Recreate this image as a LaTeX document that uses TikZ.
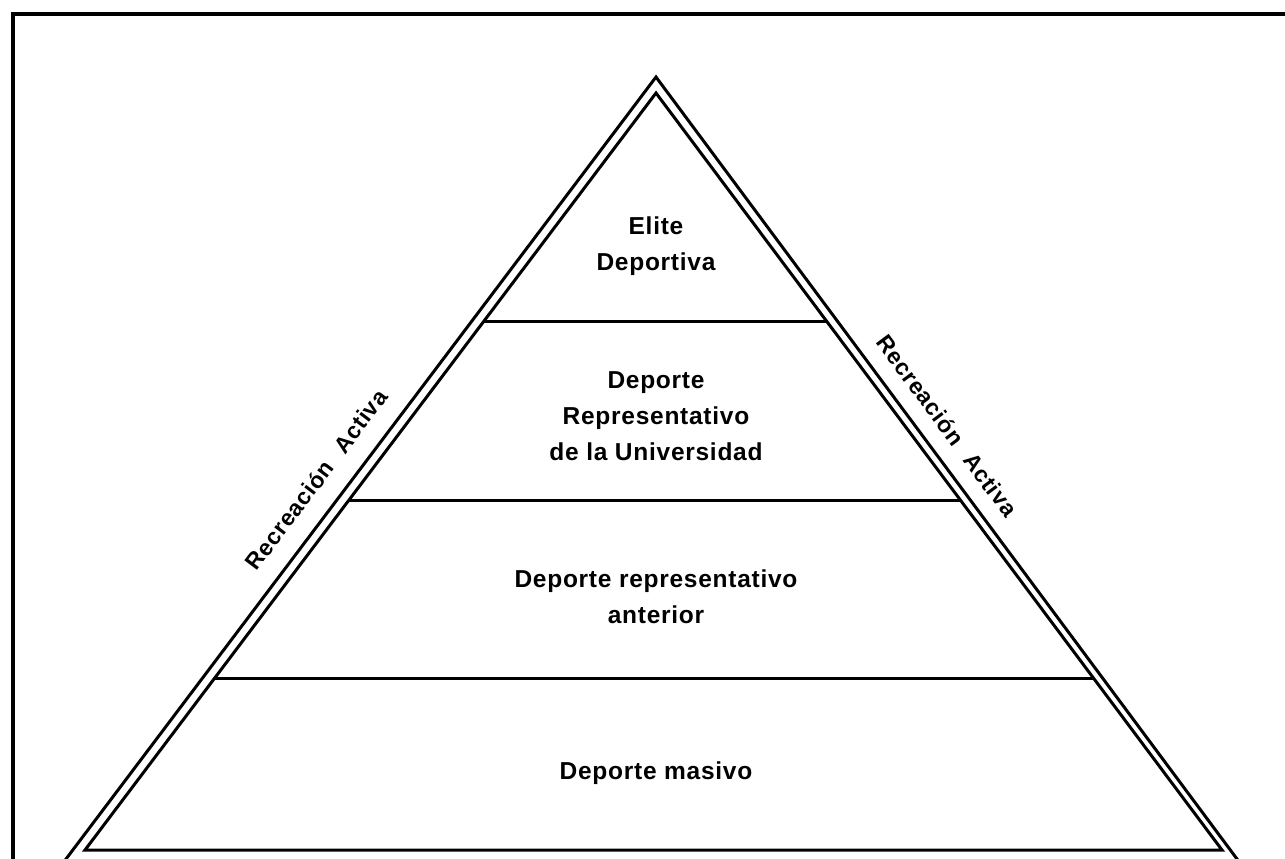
\documentclass[tikz,border=0pt]{standalone}
\usepackage{fontspec}
\setmainfont{Liberation Sans}
\newfontfamily\pyrfont[LetterSpace=3.0]{Liberation Sans}
\usetikzlibrary{calc}
\tikzset{
  edge/.style={line width=3pt, line join=miter, miter limit=20},
  frameline/.style={line width=4pt},
  divider/.style={line width=3pt},
  label/.style={font=\pyrfont\bfseries\fontsize{24.5}{36}\selectfont, align=center, inner sep=0pt},
  sidelabel/.style={font=\pyrfont\bfseries\fontsize{23}{26}\selectfont, inner sep=0pt, sloped}
}
\begin{document}
\begin{tikzpicture}[x=1pt,y=-1pt]
\useasboundingbox (0,0) rectangle (1285,859);
\clip (0,0) rectangle (1285,859);
\fill[white] (0,0) rectangle (1285,859);
% frame
\coordinate (FB) at (13,861);
\coordinate (FC) at (13,14);
\coordinate (FR) at (1287,14);
\draw[frameline] (FB) -- (FC) -- (FR);
% outer triangle
\coordinate (OA) at (656,77);
\coordinate (OL) at (66,859);
\coordinate (OR) at (1237,859);
\draw[edge] ($(OL)!-0.02!(OA)$) -- (OA) -- ($(OR)!-0.02!(OA)$);
% inner triangle
\coordinate (IA) at (656,93);
\coordinate (IL) at (85,850);
\coordinate (IR) at (1222,850);
\draw[edge] (IA) -- (IL) -- (IR) -- cycle;
% dividers
\coordinate (D1l) at ($(IA)!0.3025!(IL)$);
\coordinate (D1r) at ($(IA)!0.3025!(IR)$);
\coordinate (D2l) at ($(IA)!0.5377!(IL)$);
\coordinate (D2r) at ($(IA)!0.5377!(IR)$);
\coordinate (D3l) at ($(IA)!0.7728!(IL)$);
\coordinate (D3r) at ($(IA)!0.7728!(IR)$);
\draw[divider] (D1l) -- (D1r);
\draw[divider] (D2l) -- (D2r);
\draw[divider] (D3l) -- (D3r);
% level labels
\node[label] (elite) at (656,246) {Elite\\Deportiva};
\node[label] (univ) at (656,416) {Deporte\\Representativo\\de la Universidad};
\node[label] (ant) at (656,597) {Deporte representativo\\anterior};
\node[label] (mas) at (656,773) {Deporte masivo};
% side labels
\path (OL) -- (OA) node[sidelabel, pos=0.463, above=20pt] (rl) {Recreación\hspace{0.7em}Activa};
\path (OA) -- (OR) node[sidelabel, pos=0.4656, above=17pt] (rr) {Recreación\hspace{0.7em}Activa};
\end{tikzpicture}
\end{document}
